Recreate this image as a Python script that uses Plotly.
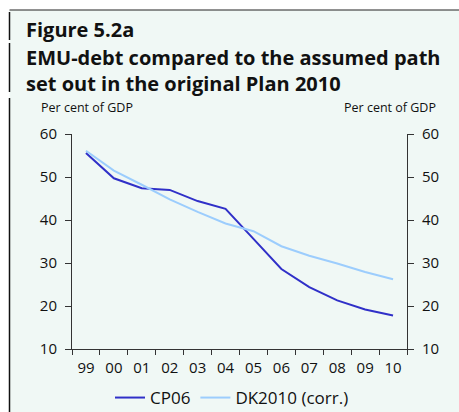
import plotly.graph_objects as go

years = ["99", "00", "01", "02", "03", "04", "05", "06", "07", "08", "09", "10"]
cp06 = [55.6, 49.7, 47.4, 47.0, 44.4, 42.6, 35.6, 28.6, 24.4, 21.3, 19.2, 17.8]
dk2010 = [56.1, 51.5, 48.2, 44.8, 41.9, 39.2, 37.4, 33.9, 31.7, 29.9, 27.9, 26.2]
y_ticks = [10, 20, 30, 40, 50, 60]

W, H = 459, 412
L, R, T, B = 72, 52, 134, 63
PW, PH = W - L - R, H - T - B

def px(x):
    return (x - L) / PW

def py(y):
    return (H - B - y) / PH

BG = "#f0f8f5"
FONT = "Open Sans"

fig = go.Figure()
fig.add_trace(go.Scatter(x=years, y=cp06, name="CP06", mode="lines",
                         line=dict(color="#3030c8", width=2)))
fig.add_trace(go.Scatter(x=years, y=dk2010, name="DK2010 (corr.)", mode="lines",
                         line=dict(color="#9ccdfd", width=2), yaxis="y2"))

axis_common = dict(range=[10, 60], tickvals=y_ticks, ticks="outside", ticklen=6,
                   showline=True, linecolor="#333", linewidth=1, tickcolor="#333",
                   showgrid=False, zeroline=False, ticklabelstandoff=5,
                   automargin=False,
                   tickfont=dict(family=FONT, size=15, color="#111"))

fig.update_layout(
    width=W, height=H,
    margin=dict(l=L, r=R, t=T, b=B, autoexpand=False),
    paper_bgcolor=BG, plot_bgcolor=BG,
    font=dict(family=FONT, color="#111"),
    xaxis=dict(type="category", range=[-0.5, 11.5], tickson="boundaries",
               ticks="outside", ticklen=5, showline=True, linecolor="#333",
               tickcolor="#333", showgrid=False, zeroline=False,
               ticklabelstandoff=5, automargin=False,
               tickfont=dict(family=FONT, size=15, color="#111")),
    yaxis=dict(side="left", **axis_common),
    yaxis2=dict(side="right", overlaying="y", **axis_common),
    showlegend=True,
    legend=dict(orientation="h", x=px(110), xanchor="left", y=py(398), yanchor="middle",
                bgcolor="rgba(0,0,0,0)", font=dict(family=FONT, size=17, color="#111"),
                itemwidth=30, tracegroupgap=0),
)

fig.add_annotation(text="<b>Figure 5.2a</b>", x=px(24), y=py(30), xref="paper", yref="paper",
                   xanchor="left", yanchor="middle", showarrow=False,
                   font=dict(family=FONT, size=20, color="#111"))
fig.add_annotation(text="<b>EMU-debt compared to the assumed path<br>set out in the original Plan 2010</b>",
                   x=px(24), y=py(70), xref="paper", yref="paper", align="left",
                   xanchor="left", yanchor="middle", showarrow=False,
                   font=dict(family=FONT, size=20, color="#111"))
fig.add_annotation(text="Per cent of GDP", x=px(39), y=py(107), xref="paper", yref="paper",
                   xanchor="left", yanchor="middle", showarrow=False,
                   font=dict(family=FONT, size=12.5, color="#111"))
fig.add_annotation(text="Per cent of GDP", x=px(438), y=py(107), xref="paper", yref="paper",
                   xanchor="right", yanchor="middle", showarrow=False,
                   font=dict(family=FONT, size=12.5, color="#111"))

# white outer strips and frame lines
shapes = [
    dict(type="rect", x0=px(-5), x1=px(9.5), y0=py(-5), y1=py(H + 5),
         fillcolor="white", line=dict(width=0)),
    dict(type="rect", x0=px(-5), x1=px(W + 5), y0=py(-5), y1=py(10),
         fillcolor="white", line=dict(width=0)),
    dict(type="line", x0=px(9.5), x1=px(W + 5), y0=py(10), y1=py(10),
         line=dict(color="#222", width=1)),
]
for y0, y1 in [(12, 40), (43, 92), (98, H + 5)]:
    shapes.append(dict(type="line", x0=px(9.5), x1=px(9.5), y0=py(y0), y1=py(y1),
                       line=dict(color="#111", width=1.5)))
for s in shapes:
    fig.add_shape(xref="paper", yref="paper", layer="above", **s)

fig.write_html("out.html", config={"displayModeBar": False},
               post_script="document.body.style.margin='0';document.body.style.overflow='hidden';")
